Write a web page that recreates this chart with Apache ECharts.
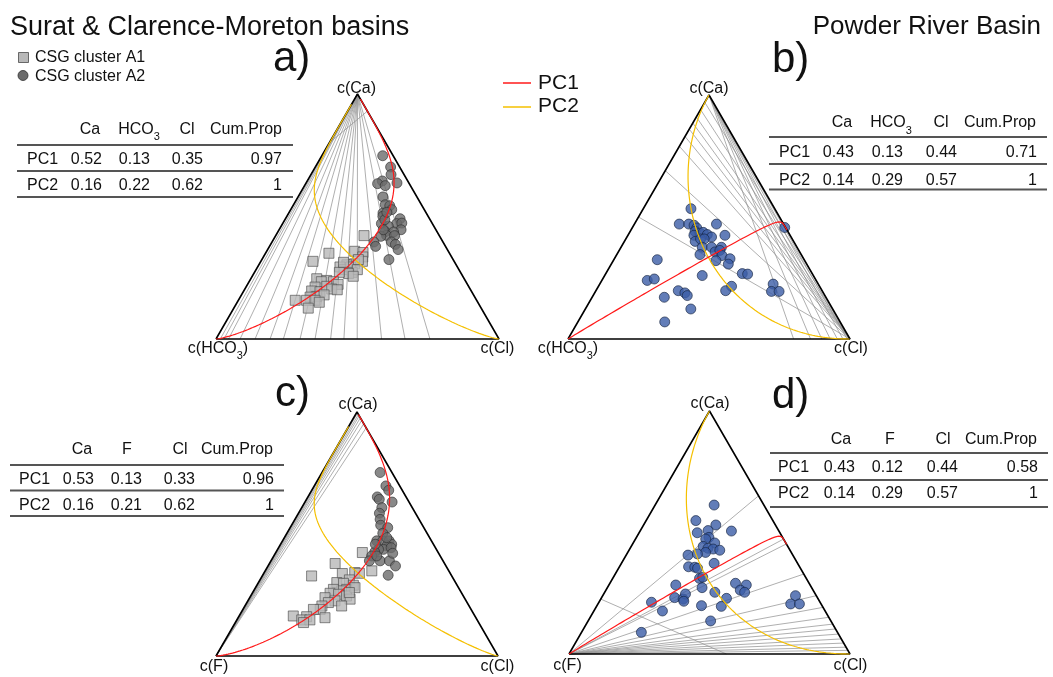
<!DOCTYPE html>
<html>
<head>
<meta charset="utf-8">
<script src="https://cdn.jsdelivr.net/npm/echarts@6/dist/echarts.min.js"></script>
<style>
  html, body { margin: 0; padding: 0; background: #fff; }
  #chart { width: 1053px; height: 677px; }
</style>
</head>
<body>
<div id="chart"></div>
<script>
// ---------------------------------------------------------------
// Sample compositions as [Ca, Cl] fractions; the third part is
// HCO3 (panels a, b) or F (panels c, d) = 1 - Ca - Cl.
// ---------------------------------------------------------------
const aClusterA1 = [
  [0.422,0.312],[0.358,0.311],[0.353,0.343],[0.335,0.351],[0.350,0.224],[0.317,0.184],
  [0.317,0.359],[0.307,0.336],[0.303,0.311],[0.294,0.291],[0.283,0.311],[0.294,0.329],
  [0.272,0.345],[0.283,0.358],[0.267,0.335],[0.256,0.357],[0.272,0.300],[0.246,0.233],
  [0.239,0.272],[0.234,0.298],[0.223,0.320],[0.234,0.255],[0.212,0.244],[0.196,0.240],
  [0.193,0.271],[0.215,0.284],[0.204,0.307],[0.201,0.328],[0.174,0.269],[0.180,0.292],
  [0.171,0.247],[0.158,0.201],[0.158,0.241],[0.158,0.271],[0.126,0.263],[0.150,0.290],
  [0.324,0.341],[0.313,0.294]
];
const aClusterA2 = [
  [0.748,0.215],[0.702,0.266],[0.671,0.283],[0.645,0.265],[0.634,0.254],[0.626,0.285],
  [0.637,0.321],[0.580,0.300],[0.548,0.324],[0.544,0.342],[0.528,0.357],[0.514,0.333],
  [0.501,0.339],[0.491,0.405],[0.471,0.349],[0.471,0.403],[0.473,0.420],[0.460,0.379],
  [0.446,0.431],[0.438,0.379],[0.437,0.409],[0.423,0.391],[0.422,0.420],[0.419,0.373],
  [0.396,0.360],[0.378,0.375],[0.396,0.422],[0.386,0.441],[0.365,0.461],[0.324,0.449],
  [0.446,0.368],[0.487,0.353],[0.517,0.345]
];
const bSamples = [
  [0.534,0.169],[0.471,0.159],[0.471,0.193],[0.466,0.214],[0.455,0.229],[0.441,0.230],
  [0.434,0.251],[0.437,0.261],[0.428,0.280],[0.418,0.300],[0.471,0.291],[0.425,0.344],
  [0.425,0.234],[0.400,0.251],[0.410,0.265],[0.410,0.278],[0.376,0.288],[0.376,0.321],
  [0.346,0.295],[0.357,0.343],[0.376,0.356],[0.363,0.357],[0.342,0.375],[0.321,0.364],
  [0.329,0.410],[0.307,0.415],[0.325,0.154],[0.260,0.346],[0.240,0.161],[0.246,0.183],
  [0.268,0.484],[0.266,0.504],[0.225,0.615],[0.195,0.624],[0.195,0.651],[0.216,0.472],
  [0.198,0.460],[0.198,0.292],[0.189,0.320],[0.178,0.334],[0.171,0.256],[0.123,0.374],
  [0.070,0.308],[0.457,0.540]
];
const cClusterA1 = [
  [0.424,0.307],[0.379,0.233],[0.328,0.175],[0.338,0.279],[0.342,0.321],[0.339,0.339],
  [0.349,0.378],[0.312,0.317],[0.301,0.278],[0.298,0.303],[0.290,0.342],[0.273,0.327],
  [0.267,0.312],[0.273,0.280],[0.257,0.276],[0.253,0.308],[0.246,0.340],[0.233,0.359],
  [0.239,0.267],[0.226,0.309],[0.205,0.343],[0.219,0.289],[0.205,0.273],[0.191,0.274],
  [0.191,0.250],[0.161,0.241],[0.164,0.192],[0.148,0.230],[0.148,0.259],[0.137,0.242],
  [0.157,0.308],[0.280,0.353],[0.260,0.343]
];
const cClusterA2 = [
  [0.752,0.206],[0.697,0.254],[0.679,0.273],[0.652,0.246],[0.642,0.258],[0.631,0.309],
  [0.608,0.284],[0.585,0.287],[0.560,0.302],[0.536,0.316],[0.526,0.346],[0.503,0.340],
  [0.472,0.334],[0.472,0.355],[0.472,0.378],[0.458,0.394],[0.451,0.380],[0.437,0.375],
  [0.437,0.358],[0.426,0.350],[0.444,0.399],[0.410,0.347],[0.390,0.349],[0.390,0.387],
  [0.390,0.420],[0.369,0.452],[0.331,0.445],[0.421,0.416],[0.458,0.336],[0.485,0.363],
  [0.410,0.365]
];
const dSamples = [
  [0.613,0.210],[0.549,0.177],[0.531,0.257],[0.499,0.207],[0.508,0.241],[0.506,0.325],
  [0.480,0.258],[0.473,0.250],[0.457,0.290],[0.443,0.256],[0.435,0.277],[0.432,0.297],
  [0.427,0.323],[0.418,0.277],[0.407,0.220],[0.412,0.251],[0.373,0.330],[0.359,0.246],
  [0.357,0.269],[0.353,0.281],[0.311,0.309],[0.316,0.318],[0.284,0.238],[0.273,0.337],
  [0.291,0.447],[0.284,0.489],[0.263,0.478],[0.254,0.498],[0.254,0.392],[0.232,0.260],
  [0.226,0.293],[0.247,0.291],[0.217,0.300],[0.229,0.446],[0.213,0.187],[0.177,0.244],
  [0.199,0.372],[0.196,0.444],[0.136,0.436],[0.089,0.213],[0.240,0.686],[0.206,0.686],
  [0.206,0.717]
];

// Principal component loadings [Ca, HCO3|F, Cl] and cumulative proportions
const aPC1 = [0.52, 0.13, 0.35], aPC2 = [0.16, 0.22, 0.62], aCumProp = [0.97, 1];
const bPC1 = [0.43, 0.13, 0.44], bPC2 = [0.14, 0.29, 0.57], bCumProp = [0.71, 1];
const cPC1 = [0.53, 0.13, 0.33], cPC2 = [0.16, 0.21, 0.62], cCumProp = [0.96, 1];
const dPC1 = [0.43, 0.12, 0.44], dPC2 = [0.14, 0.29, 0.57], dCumProp = [0.58, 1];

// Centre of each data set [Ca, HCO3|F, Cl], where both PC lines meet
const aCentre = [0.324, 0.347, 0.329];
const bCentre = [0.335, 0.335, 0.330];
const cCentre = [0.339, 0.326, 0.335];
const dCentre = [0.329, 0.352, 0.319];

// Grey ratio lines, each given by where it meets the side opposite its vertex
const aCaRays = [0.015, 0.028, 0.044, 0.085, 0.138, 0.191, 0.238, 0.297, 0.350, 0.405, 0.452, 0.499, 0.585, 0.668, 0.756]; // Cl share on HCO3–Cl side
const bClRays = [0.97, 0.94, 0.91, 0.885, 0.86, 0.83, 0.79, 0.69, 0.50];   // Ca share on Ca–HCO3 side
const bCaRays = [0.80, 0.86, 0.90, 0.93, 0.955, 0.975, 0.99];               // Cl share on HCO3–Cl side
const cFRays  = [0.996, 0.99, 0.984, 0.976, 0.966, 0.952, 0.935];           // Ca share on Ca–Cl side
const dFRays  = [0.651, 0.473, 0.453, 0.329, 0.24, 0.192, 0.151, 0.123, 0.103, 0.082, 0.062, 0.045, 0.028, 0.015];
const aExtraLines = [[[0.80, 0.0], [0.93, 0.07]]];
const dExtraLines = [[[0.226, 0.0], [0.0, 0.56]]];

// Table headers
const headHCO3 = ['Ca', 'HCO3', 'Cl', 'Cum.Prop'];
const headF = ['Ca', 'F', 'Cl', 'Cum.Prop'];

// ---------------------------------------------------------------
const FONT = '"Liberation Sans", Arial, Helvetica, sans-serif';
const R3 = Math.sqrt(3) / 2;
// ternary -> plane: left vertex (0,0), right vertex (1,0), top vertex (0.5, R3)
function toXY(ca, cl) { return [cl + ca / 2, ca * R3]; }

// straight line in the simplex geometry: centre perturbed by loading^t
function pcCurve(centre, loading) {
  const pts = [];
  for (let i = -240; i <= 240; i++) {
    const t = i / 24;
    const w = centre.map((c, k) => c * Math.pow(loading[k], t));
    const s = w[0] + w[1] + w[2];
    pts.push(toXY(w[0] / s, w[2] / s));
  }
  return pts;
}

const seg = (p, q) => ({ coords: [toXY(p[0], p[1]), toXY(q[0], q[1])] });
const fromCa = f => seg([1, 0], [0, f]);
const fromCl = h => seg([0, 1], [h, 0]);
const fromLeft = g => seg([0, 0], [g, 1 - g]);

const markStyles = {
  A1: { symbol: 'rect', symbolSize: 10, itemStyle: { color: '#b8b8b8', borderColor: '#4a4a4a', borderWidth: 0.8 } },
  A2: { symbol: 'circle', symbolSize: 10, itemStyle: { color: '#6b6b6b', borderColor: '#2e2e2e', borderWidth: 0.8 } },
  PRB: { symbol: 'circle', symbolSize: 10, itemStyle: { color: '#3b5ca6', borderColor: '#15223e', borderWidth: 0.8 } }
};

const panels = [
  { grid: { left: 216, top: 94, width: 283, height: 245 },
    groups: [['A1', aClusterA1], ['A2', aClusterA2]], pc1: aPC1, pc2: aPC2, centre: aCentre,
    lines: aCaRays.map(fromCa).concat(aExtraLines.map(l => seg(l[0], l[1]))) },
  { grid: { left: 568, top: 95, width: 282, height: 244 },
    groups: [['PRB', bSamples]], pc1: bPC1, pc2: bPC2, centre: bCentre,
    lines: bClRays.map(fromCl).concat(bCaRays.map(fromCa)) },
  { grid: { left: 216, top: 412, width: 282, height: 244 },
    groups: [['A1', cClusterA1], ['A2', cClusterA2]], pc1: cPC1, pc2: cPC2, centre: cCentre,
    lines: cFRays.map(fromLeft) },
  { grid: { left: 569, top: 411, width: 281, height: 243 },
    groups: [['PRB', dSamples]], pc1: dPC1, pc2: dPC2, centre: dCentre,
    lines: dFRays.map(fromLeft).concat(dExtraLines.map(l => seg(l[0], l[1]))) }
];

const grids = [], xAxes = [], yAxes = [], series = [];
panels.forEach((p, i) => {
  grids.push(p.grid);
  xAxes.push({ gridIndex: i, type: 'value', min: 0, max: 1, show: false });
  yAxes.push({ gridIndex: i, type: 'value', min: 0, max: R3, show: false });
  const ax = { xAxisIndex: i, yAxisIndex: i };
  series.push(Object.assign({
    type: 'lines', coordinateSystem: 'cartesian2d', silent: true, clip: false,
    lineStyle: { color: '#8f8f8f', width: 0.8, opacity: 0.9 },
    data: p.lines
  }, ax));
  series.push(Object.assign({
    type: 'line', silent: true, clip: false, symbol: 'none',
    lineStyle: { color: '#000', width: 1.6 },
    data: [toXY(0, 0), toXY(0, 1), toXY(1, 0), toXY(0, 0)]
  }, ax));
  series.push(Object.assign({
    type: 'line', silent: true, clip: false, symbol: 'none',
    lineStyle: { color: '#f5c000', width: 1.2 }, data: pcCurve(p.centre, p.pc2)
  }, ax));
  series.push(Object.assign({
    type: 'line', silent: true, clip: false, symbol: 'none',
    lineStyle: { color: '#ff1a1a', width: 1.2 }, data: pcCurve(p.centre, p.pc1)
  }, ax));
  p.groups.forEach(([kind, pts]) => {
    series.push(Object.assign({
      type: 'scatter', silent: true, clip: false,
      data: pts.map(c => toXY(c[0], c[1]))
    }, markStyles[kind], ax));
  });
});

// ---------------------------------------------------------------
// Text, tables and legends
// ---------------------------------------------------------------
function txt(x, y, text, size, align, extra) {
  return { type: 'text', x: x, y: y, silent: true, z: 10,
    style: Object.assign({ text: text, fontSize: size, fontFamily: FONT, fill: '#111',
      textAlign: align || 'left', textVerticalAlign: 'middle',
      align: align || 'left', verticalAlign: 'middle' }, extra || {}) };
}
function subText(x, y, before, sub, after, size, align) {
  const rich = {
    m: { fontSize: size, lineHeight: size + 10, fontFamily: FONT, fill: '#111' },
    s: { fontSize: Math.round(size * 0.7), lineHeight: Math.round(size * 0.8), verticalAlign: 'bottom', fontFamily: FONT, fill: '#111' }
  };
  let t = '{m|' + before + '}{s|' + sub + '}';
  if (after) t += '{m|' + after + '}';
  return txt(x, y, t, size, align, { rich: rich });
}
function hline(x1, x2, y, color, w) {
  return { type: 'line', silent: true, z: 10, shape: { x1: x1, y1: y, x2: x2, y2: y },
    style: { stroke: color, lineWidth: w } };
}

const tableLayouts = [
  { x0: 17, x1: 293, head: 129.5, rows: [159.5, 186], rules: [145, 171, 197], labelX: 27,
    valRight: [102, 150, 203, 282], headX: [90, 139, 187], cumRight: 282 },
  { x0: 769, x1: 1047, head: 123, rows: [152.5, 180.5], rules: [137, 164, 189.5], labelX: 779,
    valRight: [854, 903, 957, 1037], headX: [842, 891, 941], cumRight: 1036 },
  { x0: 10, x1: 284, head: 449.5, rows: [479.5, 506], rules: [465, 490.5, 516], labelX: 19,
    valRight: [94, 142, 195, 274], headX: [82, 127, 180], cumRight: 273 },
  { x0: 770, x1: 1048, head: 439.5, rows: [467.5, 494], rules: [453, 480, 507], labelX: 778,
    valRight: [855, 903, 958, 1038], headX: [841, 890, 943], cumRight: 1037 }
];
const tableData = [
  [headHCO3, aPC1, aPC2, aCumProp],
  [headHCO3, bPC1, bPC2, bCumProp],
  [headF, cPC1, cPC2, cCumProp],
  [headF, dPC1, dPC2, dCumProp]
];

const graphics = [];
tableLayouts.forEach((L, i) => {
  const [head, pc1, pc2, cum] = tableData[i];
  for (let k = 0; k < 3; k++) {
    if (head[k] === 'HCO3') graphics.push(subText(L.headX[k], L.head, 'HCO', '3', '', 16, 'center'));
    else graphics.push(txt(L.headX[k], L.head, head[k], 16, 'center'));
  }
  graphics.push(txt(L.cumRight, L.head, head[3], 16, 'right'));
  [pc1, pc2].forEach((row, r) => {
    const y = L.rows[r];
    graphics.push(txt(L.labelX, y, 'PC' + (r + 1), 16, 'left'));
    row.forEach((v, k) => graphics.push(txt(L.valRight[k], y, String(v), 16, 'right')));
    graphics.push(txt(L.valRight[3], y, String(cum[r]), 16, 'right'));
  });
  L.rules.forEach(y => graphics.push(hline(L.x0, L.x1, y, '#555555', 1.8)));
});

// Titles and panel letters
graphics.push(txt(10, 27.5, 'Surat & Clarence-Moreton basins', 27, 'left'));
graphics.push(txt(1041, 27, 'Powder River Basin', 26, 'right'));
graphics.push(txt(273, 59.5, 'a)', 42, 'left'));
graphics.push(txt(772, 60, 'b)', 42, 'left'));
graphics.push(txt(275, 394, 'c)', 42, 'left'));
graphics.push(txt(772, 396, 'd)', 42, 'left'));

// Vertex labels
graphics.push(txt(356.5, 88.5, 'c(Ca)', 16, 'center'));
graphics.push(subText(218, 348.5, 'c(HCO', '3', ')', 16, 'center'));
graphics.push(txt(497.5, 349, 'c(Cl)', 16, 'center'));
graphics.push(txt(709, 88.5, 'c(Ca)', 16, 'center'));
graphics.push(subText(568, 348.5, 'c(HCO', '3', ')', 16, 'center'));
graphics.push(txt(851, 349, 'c(Cl)', 16, 'center'));
graphics.push(txt(358, 404.5, 'c(Ca)', 16, 'center'));
graphics.push(txt(214, 666.5, 'c(F)', 16, 'center'));
graphics.push(txt(497.5, 666.5, 'c(Cl)', 16, 'center'));
graphics.push(txt(710, 404, 'c(Ca)', 16, 'center'));
graphics.push(txt(567.5, 665.5, 'c(F)', 16, 'center'));
graphics.push(txt(850.5, 665.5, 'c(Cl)', 16, 'center'));

// Cluster legend
graphics.push({ type: 'rect', silent: true, z: 10, shape: { x: 18.5, y: 52.5, width: 10, height: 10 },
  style: { fill: '#b8b8b8', stroke: '#4a4a4a', lineWidth: 0.8 } });
graphics.push(txt(35, 57.5, 'CSG cluster A1', 16, 'left'));
graphics.push({ type: 'circle', silent: true, z: 10, shape: { cx: 23, cy: 75.5, r: 5 },
  style: { fill: '#6b6b6b', stroke: '#2e2e2e', lineWidth: 0.8 } });
graphics.push(txt(35, 76.5, 'CSG cluster A2', 16, 'left'));

// PC legend
graphics.push({ type: 'line', silent: true, z: 10, shape: { x1: 503, y1: 83, x2: 531, y2: 83 },
  style: { stroke: '#ff1a1a', lineWidth: 1.5 } });
graphics.push(txt(538, 83, 'PC1', 21, 'left'));
graphics.push({ type: 'line', silent: true, z: 10, shape: { x1: 503, y1: 107, x2: 531, y2: 107 },
  style: { stroke: '#f5c000', lineWidth: 1.5 } });
graphics.push(txt(538, 106, 'PC2', 21, 'left'));

const chart = echarts.init(document.getElementById('chart'), null, { renderer: 'canvas' });
chart.setOption({
  animation: false,
  backgroundColor: '#ffffff',
  grid: grids,
  xAxis: xAxes,
  yAxis: yAxes,
  series: series,
  graphic: { elements: graphics }
});
</script>
</body>
</html>
